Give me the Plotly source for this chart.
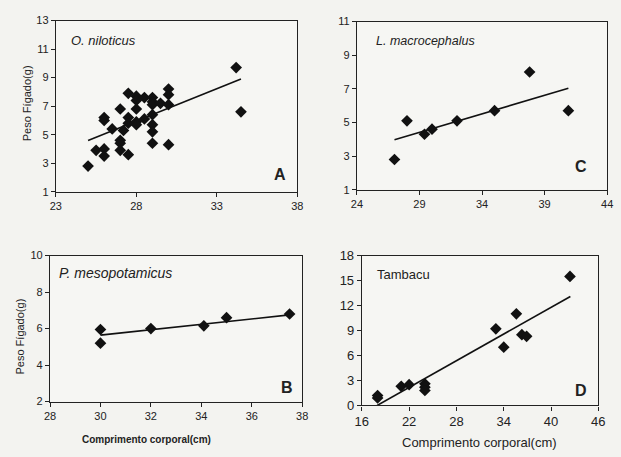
import plotly.graph_objects as go

# ---- data ----
xA = [25, 25.5, 26, 26, 26, 26, 26.5, 27, 27, 27, 27, 27.2, 27.5, 27.5, 27.5, 27.5,
      28, 28, 28, 28, 28, 28.5, 28.5, 29, 29, 29, 29, 29, 29, 29, 29.5, 30, 30, 30, 30, 34.2, 34.5]
yA = [2.8, 3.9, 4.0, 3.5, 6.2, 6.0, 5.4, 6.8, 4.6, 4.4, 3.9, 5.3, 7.9, 6.2, 5.8, 3.6,
      7.7, 7.4, 6.8, 5.9, 5.7, 7.6, 6.1, 7.6, 7.3, 7.1, 6.4, 5.7, 5.2, 4.4, 7.2, 8.2, 7.8, 7.1, 4.3, 9.7, 6.6]
fitA = (0.4526, -6.716, 25.0, 34.5)   # slope, intercept, xmin, xmax

xC = [27, 28, 29.4, 30, 32, 35, 37.8, 40.9]
yC = [2.8, 5.1, 4.3, 4.6, 5.1, 5.7, 8.0, 5.7]
fitC = (0.2201, -1.973, 27.0, 40.9)

xB = [30, 30, 32, 34.1, 35, 37.5]
yB = [5.95, 5.2, 6.0, 6.15, 6.6, 6.8]
fitB = (0.148, 1.2, 30.0, 37.5)

xD = [18, 18, 21, 22, 24, 24, 24, 33, 34, 35.6, 36.3, 36.9, 42.4]
yD = [1.2, 0.9, 2.3, 2.5, 2.6, 2.2, 1.8, 9.2, 7.0, 11.0, 8.5, 8.3, 15.5]
fitD = (0.534, -9.58, 17.94, 42.45)

species = ["O. niloticus", "L. macrocephalus", "P. mesopotamicus", "Tambacu"]
letters = ["A", "C", "B", "D"]
ytitle = "Peso Fígado(g)"
xtitle = "Comprimento corporal(cm)"

W, H = 621, 457
FONT = "Liberation Sans, Arial, sans-serif"

def px(x0, x1):
    return [x0 / W, x1 / W]

def py(top, bottom):
    return [1 - bottom / H, 1 - top / H]

panels = [
    dict(x=xA, y=yA, fit=fitA, xr=[23, 38], xd=5, yr=[1, 13], yd=2,
         dx=(50, 297), dy=(14, 191), tf=11),
    dict(x=xC, y=yC, fit=fitC, xr=[24, 44], xd=5, yr=[1, 11], yd=2,
         dx=(358, 614), dy=(15, 189), tf=11),
    dict(x=xB, y=yB, fit=fitB, xr=[28, 38], xd=2, yr=[2, 10], yd=2,
         dx=(44, 302), dy=(257, 408), tf=11),
    dict(x=xD, y=yD, fit=fitD, xr=[16, 46], xd=6, yr=[0, 18], yd=3,
         dx=(363, 605), dy=(257, 412), tf=13),
]

fig = go.Figure()
for i, p in enumerate(panels):
    n = "" if i == 0 else str(i + 1)
    xa, ya = "x" + n, "y" + n
    fig.add_trace(go.Scatter(x=p["x"], y=p["y"], mode="markers", xaxis=xa, yaxis=ya,
                             marker=dict(symbol="diamond", size=9, color="#111"),
                             showlegend=False))
    s, b, x0, x1 = p["fit"]
    fig.add_trace(go.Scatter(x=[x0, x1], y=[s * x0 + b, s * x1 + b], mode="lines",
                             xaxis=xa, yaxis=ya, line=dict(color="#111", width=1.6),
                             showlegend=False))
    common = dict(showgrid=False, zeroline=False, showline=True, linecolor="#222",
                  linewidth=1.2, mirror=True, ticks="outside", ticklen=4, tickcolor="#222",
                  tickfont=dict(family=FONT, size=p["tf"], color="#222"))
    fig.layout["xaxis" + n] = dict(domain=px(*p["dx"]), range=p["xr"], dtick=p["xd"],
                                   tick0=p["xr"][0], anchor=ya, **common)
    fig.layout["yaxis" + n] = dict(domain=py(*p["dy"]), range=p["yr"], dtick=p["yd"],
                                   tick0=p["yr"][0], anchor=xa, **common)

ann = []
ann_pos_species = [(63, 35, 13), (375, 35, 12.5), (51, 275, 14), (376, 277, 13)]
for i, (x, y, fs) in enumerate(ann_pos_species):
    txt = species[i] if i == 3 else "<i>" + species[i] + "</i>"
    ann.append(dict(x=x / W, y=1 - y / H, xref="paper", yref="paper", text=txt,
                    showarrow=False, xanchor="left", yanchor="middle",
                    font=dict(family=FONT, size=fs, color="#222")))
ann_pos_letters = [(279, 173), (587, 165), (286, 393), (587, 396)]
for i, (x, y) in enumerate(ann_pos_letters):
    ann.append(dict(x=x / W, y=1 - y / H, xref="paper", yref="paper",
                    text="<b>" + letters[i] + "</b>", showarrow=False,
                    xanchor="center", yanchor="middle",
                    font=dict(family=FONT, size=16, color="#222")))
for (x, y) in [(20, 100), (13, 341)]:
    ann.append(dict(x=x / W, y=1 - y / H, xref="paper", yref="paper", text=ytitle,
                    textangle=-90, showarrow=False, xanchor="center", yanchor="middle",
                    font=dict(family=FONT, size=11, color="#222")))
ann.append(dict(x=143 / W, y=1 - 447 / H, xref="paper", yref="paper",
                text="<b>" + xtitle + "</b>", showarrow=False, xanchor="center",
                yanchor="middle", font=dict(family=FONT, size=10, color="#222")))
ann.append(dict(x=483 / W, y=1 - 450 / H, xref="paper", yref="paper", text=xtitle,
                showarrow=False, xanchor="center", yanchor="middle",
                font=dict(family=FONT, size=13, color="#222")))

fig.update_layout(width=W, height=H, margin=dict(l=0, r=0, t=0, b=0),
                  paper_bgcolor="#f3f3f0", plot_bgcolor="#f6f6f3",
                  annotations=ann, font=dict(family=FONT))
fig.write_html("out.html")
